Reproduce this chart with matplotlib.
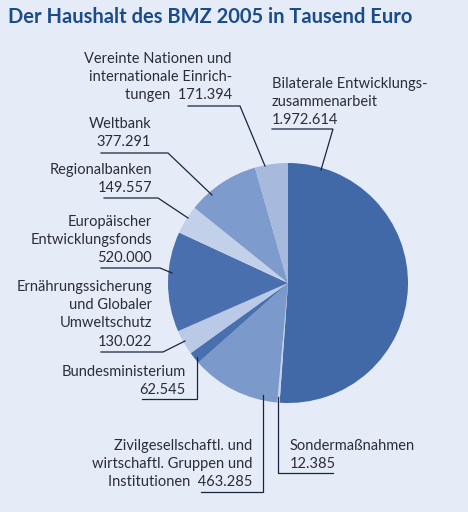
import matplotlib
matplotlib.use("Agg")
import matplotlib.pyplot as plt

# ---- data (clockwise from 12 o'clock) ----
categories = [
    "Bilaterale Entwicklungszusammenarbeit",
    "Sondermaßnahmen",
    "Zivilgesellschaftl. und wirtschaftl. Gruppen und Institutionen",
    "Bundesministerium",
    "Ernährungssicherung und Globaler Umweltschutz",
    "Europäischer Entwicklungsfonds",
    "Regionalbanken",
    "Weltbank",
    "Vereinte Nationen und internationale Einrichtungen",
]
values = [1972614, 12385, 463285, 62545, 130022, 520000, 149557, 377291, 171394]
value_labels = ["1.972.614", "12.385", "463.285", "62.545", "130.022",
                "520.000", "149.557", "377.291", "171.394"]
label_lines = [
    ["Bilaterale Entwicklungs-", "zusammenarbeit", "{v}"],
    ["Sondermaßnahmen", "{v}"],
    ["Zivilgesellschaftl. und", "wirtschaftl. Gruppen und", "Institutionen  {v}"],
    ["Bundesministerium", "{v}"],
    ["Ernährungssicherung", "und Globaler", "Umweltschutz", "{v}"],
    ["Europäischer", "Entwicklungsfonds", "{v}"],
    ["Regionalbanken", "{v}"],
    ["Weltbank", "{v}"],
    ["Vereinte Nationen und", "internationale Einrich-", "tungen  {v}"],
]
title = "Der Haushalt des BMZ 2005 in Tausend Euro"

# ---- styles / layout ----
colors = ["#4169a8", "#c6d3ec", "#7b9acb", "#4870ae", "#b9c9e6",
          "#4a6fae", "#c3d0ea", "#7d9bcc", "#a7b9dc"]
bg = "#e6ecf7"
text_color = "#2b2d3a"
line_color = "#1c2540"

# label anchors: (x, first baseline y, ha)
label_pos = [
    (272, 88, "left"),
    (290, 450, "left"),
    (252, 450, "right"),
    (186, 376, "right"),
    (152, 291, "right"),
    (152, 226, "right"),
    (152, 174, "right"),
    (151, 128, "right"),
    (232, 63, "right"),
]
leaders = [
    [(272, 129), (333, 129), (321, 170)],
    [(333, 473), (278, 473), (278, 397)],
    [(201, 492), (263, 492), (263, 395)],
    [(142, 399), (197, 399), (197, 357)],
    [(101, 352), (163, 352), (185, 341)],
    [(101, 268), (160, 268), (172, 273)],
    [(104, 198), (158, 198), (188, 218)],
    [(101, 153), (168, 153), (212, 195)],
    [(188, 106), (240, 106), (265, 166)],
]
pitch = 18.2
font = "Lato"
fs = 10.5

fig = plt.figure(figsize=(4.68, 5.12), dpi=100, facecolor=bg)
ax = fig.add_axes([0, 0, 1, 1])
ax.set_facecolor(bg)

ax.pie(values, colors=colors, startangle=-90, counterclock=True,
       center=(288, 283), radius=120,
       wedgeprops=dict(linewidth=0))

ax.set_xlim(0, 468)
ax.set_ylim(512, 0)
ax.set_aspect("equal")
ax.axis("off")

for lines, v, (x, y, ha), pts in zip(label_lines, value_labels, label_pos, leaders):
    for i, ln in enumerate(lines):
        ax.text(x, y + i * pitch, ln.format(v=v), ha=ha, va="baseline",
                fontsize=fs, family=font, color=text_color)
    xs, ys = zip(*pts)
    ax.plot(xs, ys, color=line_color, lw=0.9, solid_joinstyle="miter")

ax.text(8, 23, title, ha="left", va="baseline", fontsize=14.5,
        family=font, fontweight="bold", color="#1b4c8a")

fig.savefig("out.png", dpi=100, facecolor=bg)
